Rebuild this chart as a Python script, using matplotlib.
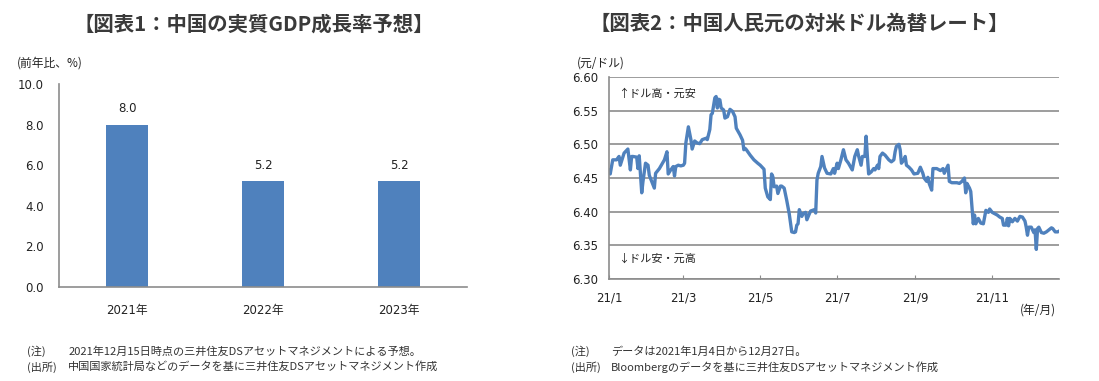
import pandas as pd
import matplotlib.pyplot as plt

plt.rcParams['font.family'] = ['DejaVu Sans', 'Noto Sans CJK JP']
JP = ['Noto Sans CJK JP', 'DejaVu Sans']

# chart 1: real GDP growth forecast
years = ['2021年', '2022年', '2023年']
growth = [8.0, 5.2, 5.2]

# chart 2: CNY per USD
fx_dates = [
    '01-04', '01-05', '01-07', '01-10', '01-12', '01-13', '01-16', '01-19', '01-21', '01-22',
    '01-23', '01-26', '01-27', '01-28', '01-30', '01-31', '02-02', '02-04', '02-05', '02-08',
    '02-09', '02-10', '02-13', '02-17', '02-19', '02-20', '02-22', '02-24', '02-25', '02-26',
    '02-28', '03-02', '03-04', '03-05', '03-06', '03-08', '03-10', '03-11', '03-13', '03-15',
    '03-17', '03-19', '03-22', '03-23', '03-25', '03-26', '03-27', '03-29', '03-30', '03-31',
    '04-01', '04-02', '04-03', '04-05', '04-06', '04-08', '04-10', '04-12', '04-14', '04-15',
    '04-18', '04-20', '04-21', '04-22', '04-23', '04-26', '04-29', '05-02', '05-04', '05-07',
    '05-08', '05-10', '05-12', '05-13', '05-14', '05-15', '05-17', '05-18', '05-20', '05-21',
    '05-23', '05-25', '05-27', '05-29', '05-31', '06-01', '06-02', '06-03', '06-04', '06-06',
    '06-07', '06-09', '06-10', '06-12', '06-13', '06-16', '06-17', '06-18', '06-19', '06-21',
    '06-22', '06-24', '06-26', '06-29', '07-01', '07-02', '07-04', '07-05', '07-07', '07-09',
    '07-11', '07-13', '07-16', '07-18', '07-20', '07-21', '07-23', '07-24', '07-26', '07-27',
    '07-28', '07-29', '07-31', '08-02', '08-03', '08-05', '08-06', '08-07', '08-09', '08-11',
    '08-14', '08-16', '08-18', '08-19', '08-20', '08-22', '08-23', '08-24', '08-26', '08-27',
    '08-28', '08-30', '09-01', '09-03', '09-06', '09-08', '09-10', '09-11', '09-13', '09-14',
    '09-15', '09-17', '09-18', '09-21', '09-22', '09-24', '09-26', '09-27', '09-30', '10-01',
    '10-03', '10-07', '10-09', '10-11', '10-13', '10-14', '10-15', '10-17', '10-18', '10-20',
    '10-21', '10-22', '10-24', '10-26', '10-28', '10-30', '11-01', '11-02', '11-04', '11-06',
    '11-08', '11-10', '11-12', '11-13', '11-15', '11-16', '11-17', '11-18', '11-20', '11-22',
    '11-24', '11-26', '11-28', '11-30', '12-01', '12-02', '12-03', '12-05', '12-07', '12-08',
    '12-09', '12-10', '12-11', '12-13', '12-15', '12-17', '12-19', '12-21', '12-22', '12-24',
    '12-25', '12-26', '12-27',
]
fx_rate = [
    6.461, 6.456, 6.477, 6.477, 6.482, 6.469, 6.487, 6.493, 6.462, 6.482,
    6.482, 6.481, 6.464, 6.483, 6.428, 6.445, 6.472, 6.469, 6.454, 6.440,
    6.435, 6.457, 6.464, 6.477, 6.489, 6.456, 6.462, 6.467, 6.453, 6.467,
    6.469, 6.468, 6.469, 6.472, 6.502, 6.526, 6.507, 6.493, 6.505, 6.502,
    6.501, 6.507, 6.509, 6.507, 6.522, 6.544, 6.546, 6.569, 6.571, 6.554,
    6.567, 6.566, 6.554, 6.551, 6.539, 6.541, 6.552, 6.549, 6.541, 6.524,
    6.514, 6.506, 6.492, 6.494, 6.492, 6.484, 6.477, 6.472, 6.469, 6.463,
    6.435, 6.422, 6.418, 6.456, 6.452, 6.437, 6.438, 6.427, 6.438, 6.438,
    6.435, 6.417, 6.397, 6.370, 6.369, 6.370, 6.380, 6.382, 6.403, 6.393,
    6.397, 6.399, 6.388, 6.397, 6.401, 6.403, 6.398, 6.447, 6.457, 6.467,
    6.482, 6.465, 6.457, 6.456, 6.464, 6.457, 6.472, 6.464, 6.477, 6.492,
    6.477, 6.472, 6.462, 6.482, 6.492, 6.483, 6.469, 6.482, 6.482, 6.512,
    6.482, 6.456, 6.459, 6.464, 6.462, 6.469, 6.464, 6.482, 6.487, 6.484,
    6.477, 6.474, 6.477, 6.489, 6.497, 6.500, 6.492, 6.472, 6.477, 6.482,
    6.469, 6.466, 6.462, 6.456, 6.457, 6.466, 6.457, 6.450, 6.445, 6.451,
    6.442, 6.432, 6.464, 6.464, 6.463, 6.461, 6.464, 6.457, 6.469, 6.445,
    6.443, 6.443, 6.442, 6.445, 6.450, 6.428, 6.442, 6.435, 6.430, 6.382,
    6.395, 6.382, 6.390, 6.383, 6.382, 6.402, 6.399, 6.404, 6.399, 6.397,
    6.395, 6.392, 6.390, 6.380, 6.380, 6.390, 6.379, 6.390, 6.385, 6.390,
    6.386, 6.393, 6.392, 6.386, 6.377, 6.365, 6.377, 6.377, 6.369, 6.373,
    6.344, 6.375, 6.377, 6.369, 6.368, 6.370, 6.373, 6.376, 6.375, 6.370,
    6.370, 6.370, 6.371,
]
fx_ticks = ['01-04', '03-04', '05-04', '07-04', '09-04', '11-04']
fx_ticklabels = ['21/1', '21/3', '21/5', '21/7', '21/9', '21/11']

BLUE = '#4F81BD'
GRAY = '#8C8C8C'
TXT = '#222222'
NOTE = '#333333'
TITLE = '#3A3A3A'

fig = plt.figure(figsize=(10.99, 3.81), dpi=100)

# ---- left: GDP bars
ax1 = fig.add_axes([0.0537, 0.2467, 0.3712, 0.5328])
ax1.bar(range(len(years)), growth, width=0.31, color=BLUE)
for i, v in enumerate(growth):
    ax1.text(i, v + 0.45, f'{v:.1f}', ha='center', va='bottom', fontsize=8.5, color=TXT)
ax1.set_xlim(-0.5, len(years) - 0.5)
ax1.set_ylim(0, 10)
ax1.set_yticks([0, 2, 4, 6, 8, 10])
ax1.set_yticklabels([f'{t:.1f}' for t in [0, 2, 4, 6, 8, 10]])
ax1.set_xticks(range(len(years)))
ax1.set_xticklabels(years)
ax1.tick_params(length=0, labelsize=8.5, colors=TXT)
ax1.tick_params(axis='y', pad=11)
ax1.tick_params(axis='x', pad=12)
for s in ['top', 'right']:
    ax1.spines[s].set_visible(False)
for s in ['left', 'bottom']:
    ax1.spines[s].set_color(GRAY)
    ax1.spines[s].set_linewidth(1.2)

fig.text(0.2307, 0.938, '【図表1：中国の実質GDP成長率予想】', ha='center', va='center',
         fontsize=14.7, fontweight='bold', color=TITLE, family=JP)
fig.text(0.015, 0.835, '(前年比、%)', ha='left', va='center', fontsize=8.5, color=TXT, family=JP)
fig.text(0.025, 0.077, '(注)', ha='left', va='center', fontsize=8, color=NOTE, family=JP)
fig.text(0.062, 0.077, '2021年12月15日時点の三井住友DSアセットマネジメントによる予想。',
         ha='left', va='center', fontsize=8, color=NOTE, family=JP)
fig.text(0.025, 0.037, '(出所)', ha='left', va='center', fontsize=8, color=NOTE, family=JP)
fig.text(0.062, 0.037, '中国国家統計局などのデータを基に三井住友DSアセットマネジメント作成',
         ha='left', va='center', fontsize=8, color=NOTE, family=JP)

# ---- right: CNY/USD line
dates = pd.to_datetime(['2021-' + d for d in fx_dates])
ax2 = fig.add_axes([0.5541, 0.2677, 0.4095, 0.5302])
ax2.plot(dates, fx_rate, color=BLUE, lw=2.4, solid_joinstyle='round')
ax2.set_xlim(pd.Timestamp('2021-01-04'), pd.Timestamp('2021-12-27'))
ax2.set_ylim(6.30, 6.60)
yt = [6.30, 6.35, 6.40, 6.45, 6.50, 6.55, 6.60]
ax2.set_yticks(yt)
ax2.set_yticklabels([f'{t:.2f}' for t in yt])
ax2.set_xticks(pd.to_datetime(['2021-' + d for d in fx_ticks]))
ax2.set_xticklabels(fx_ticklabels)
ax2.grid(axis='y', color=GRAY, lw=1.2)
ax2.set_axisbelow(True)
ax2.tick_params(axis='y', length=0, labelsize=8.5, colors=TXT, pad=8)
ax2.tick_params(axis='x', direction='in', length=3, color=GRAY, labelsize=8.5,
                labelcolor=TXT, pad=9)
for s in ['top', 'right']:
    ax2.spines[s].set_visible(False)
for s in ['left', 'bottom']:
    ax2.spines[s].set_color(GRAY)
    ax2.spines[s].set_linewidth(1.2)

ax2.text(0.02, 0.92, '↑ドル高・元安', transform=ax2.transAxes, ha='left', va='center',
         fontsize=8, color=TXT, family=JP)
ax2.text(0.02, 0.10, '↓ドル安・元高', transform=ax2.transAxes, ha='left', va='center',
         fontsize=8, color=TXT, family=JP)

fig.text(0.727, 0.938, '【図表2：中国人民元の対米ドル為替レート】', ha='center', va='center',
         fontsize=14.7, fontweight='bold', color=TITLE, family=JP)
fig.text(0.525, 0.835, '(元/ドル)', ha='left', va='center', fontsize=8.5, color=TXT, family=JP)
fig.text(0.944, 0.186, '(年/月)', ha='center', va='center', fontsize=8.5, color=TXT, family=JP)
fig.text(0.520, 0.077, '(注)', ha='left', va='center', fontsize=8, color=NOTE, family=JP)
fig.text(0.556, 0.077, 'データは2021年1月4日から12月27日。',
         ha='left', va='center', fontsize=8, color=NOTE, family=JP)
fig.text(0.520, 0.037, '(出所)', ha='left', va='center', fontsize=8, color=NOTE, family=JP)
fig.text(0.556, 0.037, 'Bloombergのデータを基に三井住友DSアセットマネジメント作成',
         ha='left', va='center', fontsize=8, color=NOTE, family=JP)

fig.savefig('out.png', dpi=100, facecolor='white')
